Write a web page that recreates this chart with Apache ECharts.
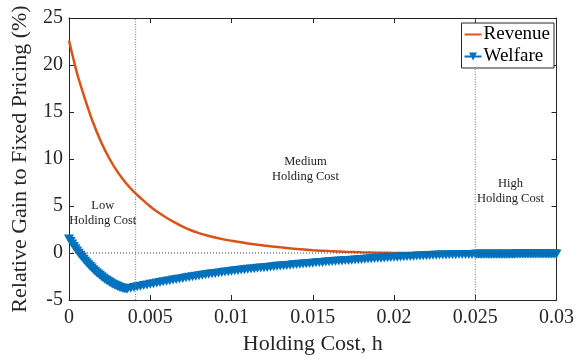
<!DOCTYPE html>
<html>
<head>
<meta charset="utf-8">
<script src="https://cdn.jsdelivr.net/npm/echarts@6/dist/echarts.min.js"></script>
<style>
html,body{margin:0;padding:0;background:#fff;}
#chart{width:577px;height:360px;}
</style>
</head>
<body>
<div id="chart"></div>
<script>
// ---- data ----
const xTickLabels = ['0', '0.005', '0.01', '0.015', '0.02', '0.025', '0.03'];
const yTickLabels = ['-5', '0', '5', '10', '15', '20', '25'];

const revenueX = [0, 0.0005, 0.001, 0.0015, 0.002, 0.0025, 0.003, 0.0035, 0.004, 0.0045, 0.005, 0.0055, 0.006, 0.0065, 0.007, 0.0075, 0.008, 0.0085, 0.009, 0.0095, 0.010, 0.011, 0.012, 0.013, 0.014, 0.015, 0.016, 0.017, 0.018, 0.019, 0.020, 0.021, 0.022, 0.024, 0.026, 0.028, 0.030];
const revenueY = [22.6, 19.1, 16.3, 13.8, 11.7, 10.0, 8.6, 7.45, 6.5, 5.7, 4.95, 4.3, 3.75, 3.25, 2.8, 2.42, 2.12, 1.86, 1.64, 1.45, 1.3, 1.02, 0.8, 0.6, 0.43, 0.3, 0.2, 0.13, 0.07, 0.03, 0.01, -0.01, -0.02, -0.03, -0.03, -0.03, -0.03];

// Welfare: three sampling grids (dense / medium / dense)
const welfareLowStart = 0, welfareLowStep = 0.0001;
const welfareLow = [1.50, 1.22, 0.95, 0.69, 0.44, 0.20, -0.03, -0.25, -0.46, -0.67, -0.87, -1.06, -1.25, -1.43, -1.60, -1.77, -1.93, -2.09, -2.24, -2.38, -2.52, -2.65, -2.78, -2.90, -3.01, -3.12, -3.22, -3.32, -3.41, -3.49, -3.57, -3.64, -3.70, -3.76, -3.80, -3.83, -3.84];
const welfareMidStart = 0.0038, welfareMidStep = 0.0002;
const welfareMid = [-3.74, -3.66, -3.59, -3.53, -3.46, -3.40, -3.33, -3.26, -3.20, -3.13, -3.07, -3.00, -2.94, -2.88, -2.82, -2.76, -2.70, -2.64, -2.59, -2.53, -2.48, -2.42, -2.37, -2.32, -2.27, -2.22, -2.17, -2.12, -2.08, -2.03, -1.99, -1.94, -1.90, -1.86, -1.82, -1.78, -1.74, -1.70, -1.67, -1.63, -1.60, -1.56, -1.53, -1.49, -1.46, -1.42, -1.39, -1.36, -1.32, -1.29, -1.26, -1.23, -1.20, -1.17, -1.14, -1.11, -1.08, -1.05, -1.02, -1.00, -0.97, -0.94, -0.91, -0.89, -0.86, -0.84, -0.81, -0.79, -0.76, -0.74, -0.71, -0.69, -0.67, -0.64, -0.62, -0.59, -0.57, -0.55, -0.53, -0.50, -0.48, -0.46, -0.44, -0.42, -0.40, -0.38, -0.36, -0.34, -0.33, -0.31, -0.29, -0.28, -0.26, -0.25, -0.24, -0.22, -0.21, -0.20, -0.19, -0.18, -0.18, -0.17, -0.16, -0.16, -0.15, -0.15, -0.14];
const welfareHighStart = 0.0251, welfareHighStep = 0.0001;
const welfareHigh = [-0.14, -0.14, -0.14, -0.14, -0.14, -0.13, -0.13, -0.13, -0.13, -0.13, -0.13, -0.13, -0.13, -0.13, -0.12, -0.12, -0.12, -0.12, -0.12, -0.12, -0.12, -0.12, -0.12, -0.12, -0.11, -0.11, -0.11, -0.11, -0.11, -0.11, -0.11, -0.11, -0.11, -0.11, -0.11, -0.11, -0.11, -0.10, -0.10, -0.10, -0.10, -0.10, -0.10, -0.10, -0.10, -0.10, -0.10, -0.10, -0.10, -0.10];

const regionBoundaries = [0.0041, 0.025];
const annotationText = ['Low\nHolding Cost', 'Medium\nHolding Cost', 'High\nHolding Cost'];
const annotationX = [0.00208, 0.01455, 0.02717];
const annotationY = [4.2, 8.9, 6.6];

// ---- build ----
function seg(start, step, vals) {
  return vals.map((v, i) => [Math.round((start + i * step) * 1e6) / 1e6, v]);
}
const welfareData = seg(welfareLowStart, welfareLowStep, welfareLow)
  .concat(seg(welfareMidStart, welfareMidStep, welfareMid))
  .concat(seg(welfareHighStart, welfareHighStep, welfareHigh));
const revenueData = revenueX.map((x, i) => [x, revenueY[i]]);

const FONT = 'Liberation Serif';
const AX = '#262626';
const X_MIN = 0, X_MAX = 0.03, Y_MIN = -5, Y_MAX = 25;
const xFmt = v => { const i = Math.round(v / 0.005); return xTickLabels[i] !== undefined ? xTickLabels[i] : ''; };
const yFmt = v => { const i = Math.round((v + 5) / 5); return yTickLabels[i] !== undefined ? yTickLabels[i] : ''; };

const chart = echarts.init(document.getElementById('chart'), null, {renderer: 'canvas'});
const baseX = {
  type: 'value', min: X_MIN, max: X_MAX, interval: 0.005,
  axisLine: {show: true, onZero: false, lineStyle: {color: AX, width: 1}},
  axisTick: {show: true, inside: true, length: 5, lineStyle: {color: AX}},
  splitLine: {show: false}
};
const baseY = {
  type: 'value', min: Y_MIN, max: Y_MAX, interval: 5,
  axisLine: {show: true, onZero: false, lineStyle: {color: AX, width: 1}},
  axisTick: {show: true, inside: true, length: 5, lineStyle: {color: AX}},
  splitLine: {show: false}
};

function refLine(data, color, dash) {
  return {
    type: 'line', xAxisIndex: 0, yAxisIndex: 0, data: data,
    symbol: 'none', silent: true, z: 5, clip: true,
    lineStyle: {color: color, width: 1, type: dash}
  };
}

chart.setOption({
  animation: false,
  backgroundColor: '#fff',
  grid: {left: 69, right: 17, top: 18, bottom: 60, containLabel: false},
  xAxis: [
    Object.assign({}, baseX, {
      position: 'bottom',
      name: 'Holding Cost, h', nameLocation: 'middle', nameGap: 30,
      nameTextStyle: {fontFamily: FONT, fontSize: 22, color: AX},
      axisLabel: {formatter: xFmt, fontFamily: FONT, fontSize: 20, color: AX, margin: 8}
    }),
    Object.assign({}, baseX, {position: 'top', axisLabel: {show: false}})
  ],
  yAxis: [
    Object.assign({}, baseY, {
      position: 'left',
      name: 'Relative Gain to Fixed Pricing (%)', nameLocation: 'middle', nameGap: 38,
      nameTextStyle: {fontFamily: FONT, fontSize: 22, color: AX},
      axisLabel: {formatter: yFmt, fontFamily: FONT, fontSize: 20, color: AX, margin: 6}
    }),
    Object.assign({}, baseY, {position: 'right', axisLabel: {show: false}})
  ],
  legend: {
    orient: 'vertical', right: 23, top: 23, z: 10,
    backgroundColor: '#fff', borderColor: AX, borderWidth: 1, borderRadius: 0,
    padding: [2, 4, 2, 2], itemGap: 3, itemWidth: 17, itemHeight: 10,
    textStyle: {fontFamily: FONT, fontSize: 19, color: '#000', padding: [0, 0, 0, -3]},
    data: [
      {name: 'Revenue', itemStyle: {opacity: 0}},
      {name: 'Welfare'}
    ]
  },
  series: [
    {
      name: 'Revenue', type: 'line', xAxisIndex: 0, yAxisIndex: 0,
      data: revenueData, smooth: 0.3, showSymbol: false, symbol: 'none',
      lineStyle: {color: '#D95319', width: 2.5}, itemStyle: {color: '#D95319'},
      z: 2,
      markPoint: {
        symbol: 'rect', symbolSize: 0, silent: true,
        label: {show: true, position: 'inside', fontFamily: FONT, fontSize: 12.5, lineHeight: 15, color: '#222', align: 'center', verticalAlign: 'middle'},
        data: annotationText.map((t, i) => ({coord: [annotationX[i], annotationY[i]], value: t, label: {formatter: t}}))
      }
    },
    {
      name: 'Welfare', type: 'line', xAxisIndex: 0, yAxisIndex: 0,
      data: welfareData, clip: false,
      symbol: 'triangle', symbolRotate: 180, symbolSize: [10, 9], showSymbol: true, showAllSymbol: true,
      lineStyle: {color: '#0072BD', width: 2.5}, itemStyle: {color: '#0072BD'},
      z: 3
    },
    refLine([[regionBoundaries[0], Y_MIN], [regionBoundaries[0], Y_MAX]], '#777', [1, 1.5]),
    refLine([[regionBoundaries[1], Y_MIN], [regionBoundaries[1], Y_MAX]], '#777', [1, 1.5]),
    refLine([[X_MIN, 0], [X_MAX, 0]], '#444', [1, 2])
  ]
});
</script>
</body>
</html>
